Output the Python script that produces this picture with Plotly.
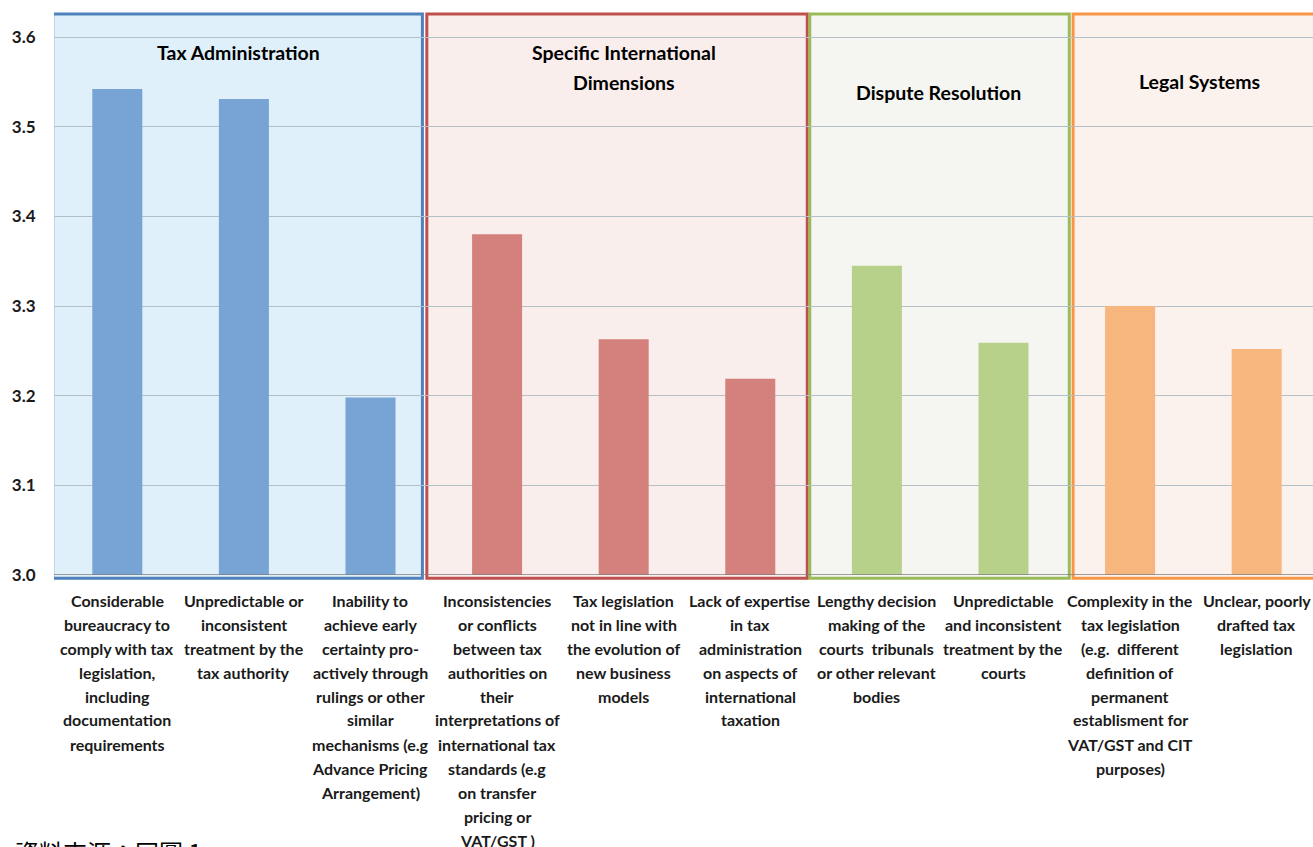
import plotly.graph_objects as go

# Survey scores per uncertainty source, grouped by theme
groups = ["Tax Administration", "Specific International\nDimensions",
          "Dispute Resolution", "Legal Systems"]
group_sizes = [3, 3, 2, 2]

categories = [
    "Considerable\nbureaucracy to\ncomply with tax\nlegislation,\nincluding\ndocumentation\nrequirements",
    "Unpredictable or\ninconsistent\ntreatment by the\ntax authority",
    "Inability to\nachieve early\ncertainty pro-\nactively through\nrulings or other\nsimilar\nmechanisms (e.g\nAdvance Pricing\nArrangement)",
    "Inconsistencies\nor conflicts\nbetween tax\nauthorities on\ntheir\ninterpretations of\ninternational tax\nstandards (e.g\non transfer\npricing or\nVAT/GST )",
    "Tax legislation\nnot in line with\nthe evolution of\nnew business\nmodels",
    "Lack of expertise\nin tax\nadministration\non aspects of\ninternational\ntaxation",
    "Lengthy decision\nmaking of the\ncourts  tribunals\nor other relevant\nbodies",
    "Unpredictable\nand inconsistent\ntreatment by the\ncourts",
    "Complexity in the\ntax legislation\n(e.g.  different\ndefinition of\npermanent\nestablisment for\nVAT/GST and CIT\npurposes)",
    "Unclear, poorly\ndrafted tax\nlegislation",
]
scores = [3.542, 3.531, 3.198, 3.380, 3.263, 3.219, 3.345, 3.259, 3.300, 3.252]

tick_vals = [3.0, 3.1, 3.2, 3.3, 3.4, 3.5, 3.6]
tick_text = ["3.0", "3.1", "3.2", "3.3", "3.4", "3.5", "3.6"]

bar_colors = ["#77A4D5", "#D4807D", "#B8D18A", "#F8B67F"]
box_lines = ["#4F81BD", "#C0504D", "#9BBB59", "#F79646"]
box_fills = ["#DFF0FB", "#F9EEEC", "#F5F6F1", "#FBF2EE"]
# horizontal extent of each group frame (category units)
box_spans = [(-0.51, 2.41), (2.445, 5.45), (5.47, 7.52), (7.55, 10.2)]
# title centre (category units) and first-line height (pixels from top)
title_x = [0.96, 4.0, 6.49, 8.55]
title_py = [53, 53, 92, 81]

FONT = "Lato"
W, H = 1313, 847
M_L, M_T, M_B = 54, 13, 272
plot_h = H - M_T - M_B
plot_w = W - M_L


def py_to_paper(py):
    return (H - M_B - py) / plot_h


colors = []
for g, n in enumerate(group_sizes):
    colors += [bar_colors[g]] * n

x_idx = list(range(len(categories)))

fig = go.Figure()
fig.add_trace(go.Bar(
    x=x_idx, y=scores, marker=dict(color=colors, line=dict(width=0)),
    width=0.395, hoverinfo="y",
))

shapes = []
annotations = []
for g, (x0, x1) in enumerate(box_spans):
    shapes.append(dict(
        type="rect", xref="x", yref="paper", x0=x0, x1=x1, y0=-0.006, y1=0.998,
        fillcolor=box_fills[g], line=dict(color=box_lines[g], width=3), layer="below",
    ))
    for k, line in enumerate(groups[g].split("\n")):
        annotations.append(dict(
            x=title_x[g], y=py_to_paper(title_py[g] + 29 * k),
            xref="x", yref="paper", text="<b>" + line + "</b>",
            showarrow=False, font=dict(family=FONT, size=19.5, color="#000000"),
            xanchor="center", yanchor="middle",
        ))

# multi-line category labels below the axis, one annotation per line
for i, lab in enumerate(categories):
    for k, line in enumerate(lab.split("\n")):
        annotations.append(dict(
            x=i, y=py_to_paper(600 + 24 * k), xref="x", yref="paper",
            text="<b>" + line + "</b>", showarrow=False,
            font=dict(family=FONT, size=16, color="#1a1a1a"),
            xanchor="center", yanchor="middle",
        ))

# source note at the foot of the page
annotations.append(dict(
    x=(13 - M_L) / plot_w, y=py_to_paper(832), xref="paper", yref="paper",
    text="資料來源：同圖 1", showarrow=False,
    font=dict(family="Noto Sans CJK TC", size=24, color="#000000"),
    xanchor="left", yanchor="top",
))

fig.update_layout(
    width=W, height=H,
    margin=dict(l=M_L, r=0, t=M_T, b=M_B, pad=0),
    paper_bgcolor="white", plot_bgcolor="rgba(0,0,0,0)",
    showlegend=False, bargap=0.6,
    shapes=shapes, annotations=annotations,
)
fig.update_xaxes(
    range=[-0.5, 9.445], showticklabels=False, showgrid=False,
    zeroline=False, showline=False, ticks="",
)
fig.update_yaxes(
    range=[3.0, 3.6268], tickvals=tick_vals, ticktext=["<b>" + t + "</b>" for t in tick_text],
    tickfont=dict(family=FONT, size=17, color="#1a1a1a"),
    showgrid=True, gridcolor="#B5BFC6", gridwidth=1,
    zeroline=False, showline=False, ticks="outside", ticklen=14,
    tickcolor="rgba(0,0,0,0)",
)
fig.add_hline(y=3.0, line=dict(color="#7F7F7F", width=1.5))

fig.write_html("out.html")
